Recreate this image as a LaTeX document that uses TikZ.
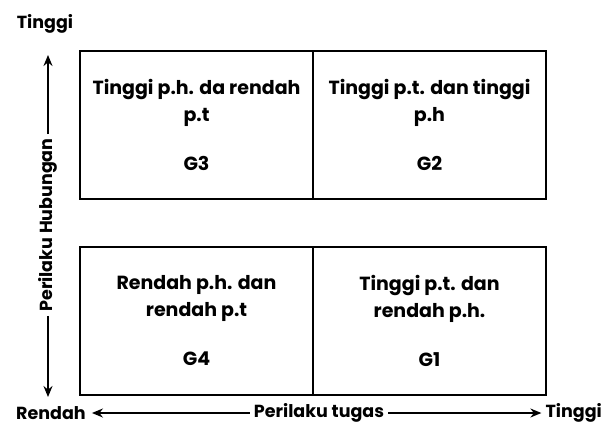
\documentclass[tikz,border=0pt]{standalone}
\usepackage{fontspec}
\setmainfont{Poppins}
\usetikzlibrary{arrows.meta,positioning}
\tikzset{
  quad/.style={draw=black, line width=1.3pt, outer sep=0pt, inner sep=0pt, minimum width=233pt, minimum height=148pt, align=center, font=\bfseries\fontsize{19}{26.5}\selectfont},
  axis/.style={inner sep=4pt, font=\bfseries\fontsize{17.5}{20}\selectfont},
  arr/.style={-{Stealth[length=11pt,width=9pt]}, line width=1.6pt, draw=black}
}
\begin{document}
\begin{tikzpicture}[x=1pt, y=1pt]
  \useasboundingbox (0,0) rectangle (605,432);
  % quadrants
  \node[quad, anchor=north west] (g3) at (80,381) {Tinggi p.h. da rendah\\p.t\\[23pt]G3};
  \node[quad, right=0pt of g3] (g2) {Tinggi p.t. dan tinggi\\p.h\\[23pt]G2};
  \node[quad, below=48pt of g3] (g4) {Rendah p.h. dan\\rendah p.t\\[23pt]G4};
  \node[quad, right=0pt of g4] (g1) {Tinggi p.t. dan\\rendah p.h.\\[23pt]G1};

  % vertical axis
  \node[axis] (ytop) at (45,408) {Tinggi};
  \node[axis, rotate=90] (vlab) at (48,207) {Perilaku Hubungan};
  \coordinate (vtop) at (48,377);
  \coordinate (vbot) at (48,35);
  \draw[arr] (vlab.east) -- (vtop);
  \draw[arr] (vlab.west) -- (vbot);

  % horizontal axis
  \node[axis, anchor=west, inner xsep=6pt] (xlow) at (10,19) {Rendah};
  \node[axis] (hlab) at (319,19) {Perilaku tugas};
  \node[axis, anchor=east] (xhigh) at (606,19) {Tinggi};
  \draw[arr] (hlab.west) -- (xlow.east);
  \draw[arr] (hlab.east) -- (xhigh.west);
\end{tikzpicture}
\end{document}
